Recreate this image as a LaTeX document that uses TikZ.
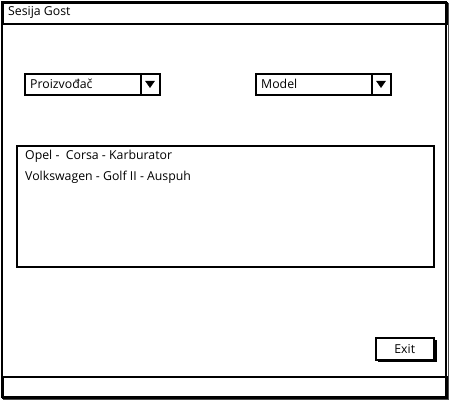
\documentclass[tikz,border=0pt]{standalone}
\usepackage{fontspec}
\setmainfont{Open Sans}
\usetikzlibrary{calc}
\begin{document}
\begin{tikzpicture}[x=1pt,y=-1pt,
  frame/.style={draw=black,line width=2pt},
  box/.style={draw=black,line width=1.9pt,fill=white},
  lbl/.style={anchor=west,inner sep=0pt,font=\fontsize{12.3}{14}\selectfont},
  tri/.style={fill=black,draw=black,line width=0.5pt}]
\useasboundingbox (0,0) rectangle (450,400);
\fill[white] (0,0) rectangle (450,400);
% window
\draw[frame] (1.5,1.5) rectangle (446,397);
\draw[black!70,line width=1pt] (448,3) -- (448,399) -- (3,399);
\node[frame,minimum width=444.5pt,minimum height=21pt,anchor=north west,inner sep=0pt] (title) at (1.5,1.5) {};
\node[lbl] (ttext) at (8,12) {Sesija Gost};
\node[frame,minimum width=444.5pt,minimum height=21pt,anchor=north west,inner sep=0pt] (status) at (1.5,376) {};
% dropdown 1
\node[box,minimum width=135pt,minimum height=21pt,anchor=north west,inner sep=0pt] (dd1) at (24,73) {};
\coordinate (d1a) at (141,73);
\coordinate (d1b) at (141,94);
\draw[line width=1.9pt] (d1a) -- (d1b);
\node[lbl] (p) at (30,84) {Proizvođač};
\coordinate (t1) at (150,84);
\fill[tri] ($(t1)+(-4.5,-3)$) -- ($(t1)+(4.5,-3)$) -- ($(t1)+(0,3.5)$) -- cycle;
% dropdown 2
\node[box,minimum width=135pt,minimum height=21pt,anchor=north west,inner sep=0pt] (dd2) at (255,73) {};
\coordinate (d2a) at (372,73);
\coordinate (d2b) at (372,94);
\draw[line width=1.9pt] (d2a) -- (d2b);
\node[lbl] (m) at (261,84) {Model};
\coordinate (t2) at (381,84);
\fill[tri] ($(t2)+(-4.5,-3)$) -- ($(t2)+(4.5,-3)$) -- ($(t2)+(0,3.5)$) -- cycle;
% list
\node[box,minimum width=417pt,minimum height=121pt,anchor=north west,inner sep=0pt] (list) at (16,145) {};
\node[lbl] (l1) at (25,156) {Opel -\ \ Corsa - Karburator};
\node[lbl] (l2) at (25,177) {Volkswagen - Golf II - Auspuh};
% exit button
\draw[line width=2.6pt] (378,361) -- (436,361) -- (436,340);
\node[box,line width=1.5pt,minimum width=58pt,minimum height=22pt,anchor=north west,inner sep=0pt] (exit) at (375,337) {};
\node[inner sep=0pt,font=\fontsize{12.3}{14}\selectfont] (et) at (exit.center) {Exit};
\end{tikzpicture}
\end{document}
